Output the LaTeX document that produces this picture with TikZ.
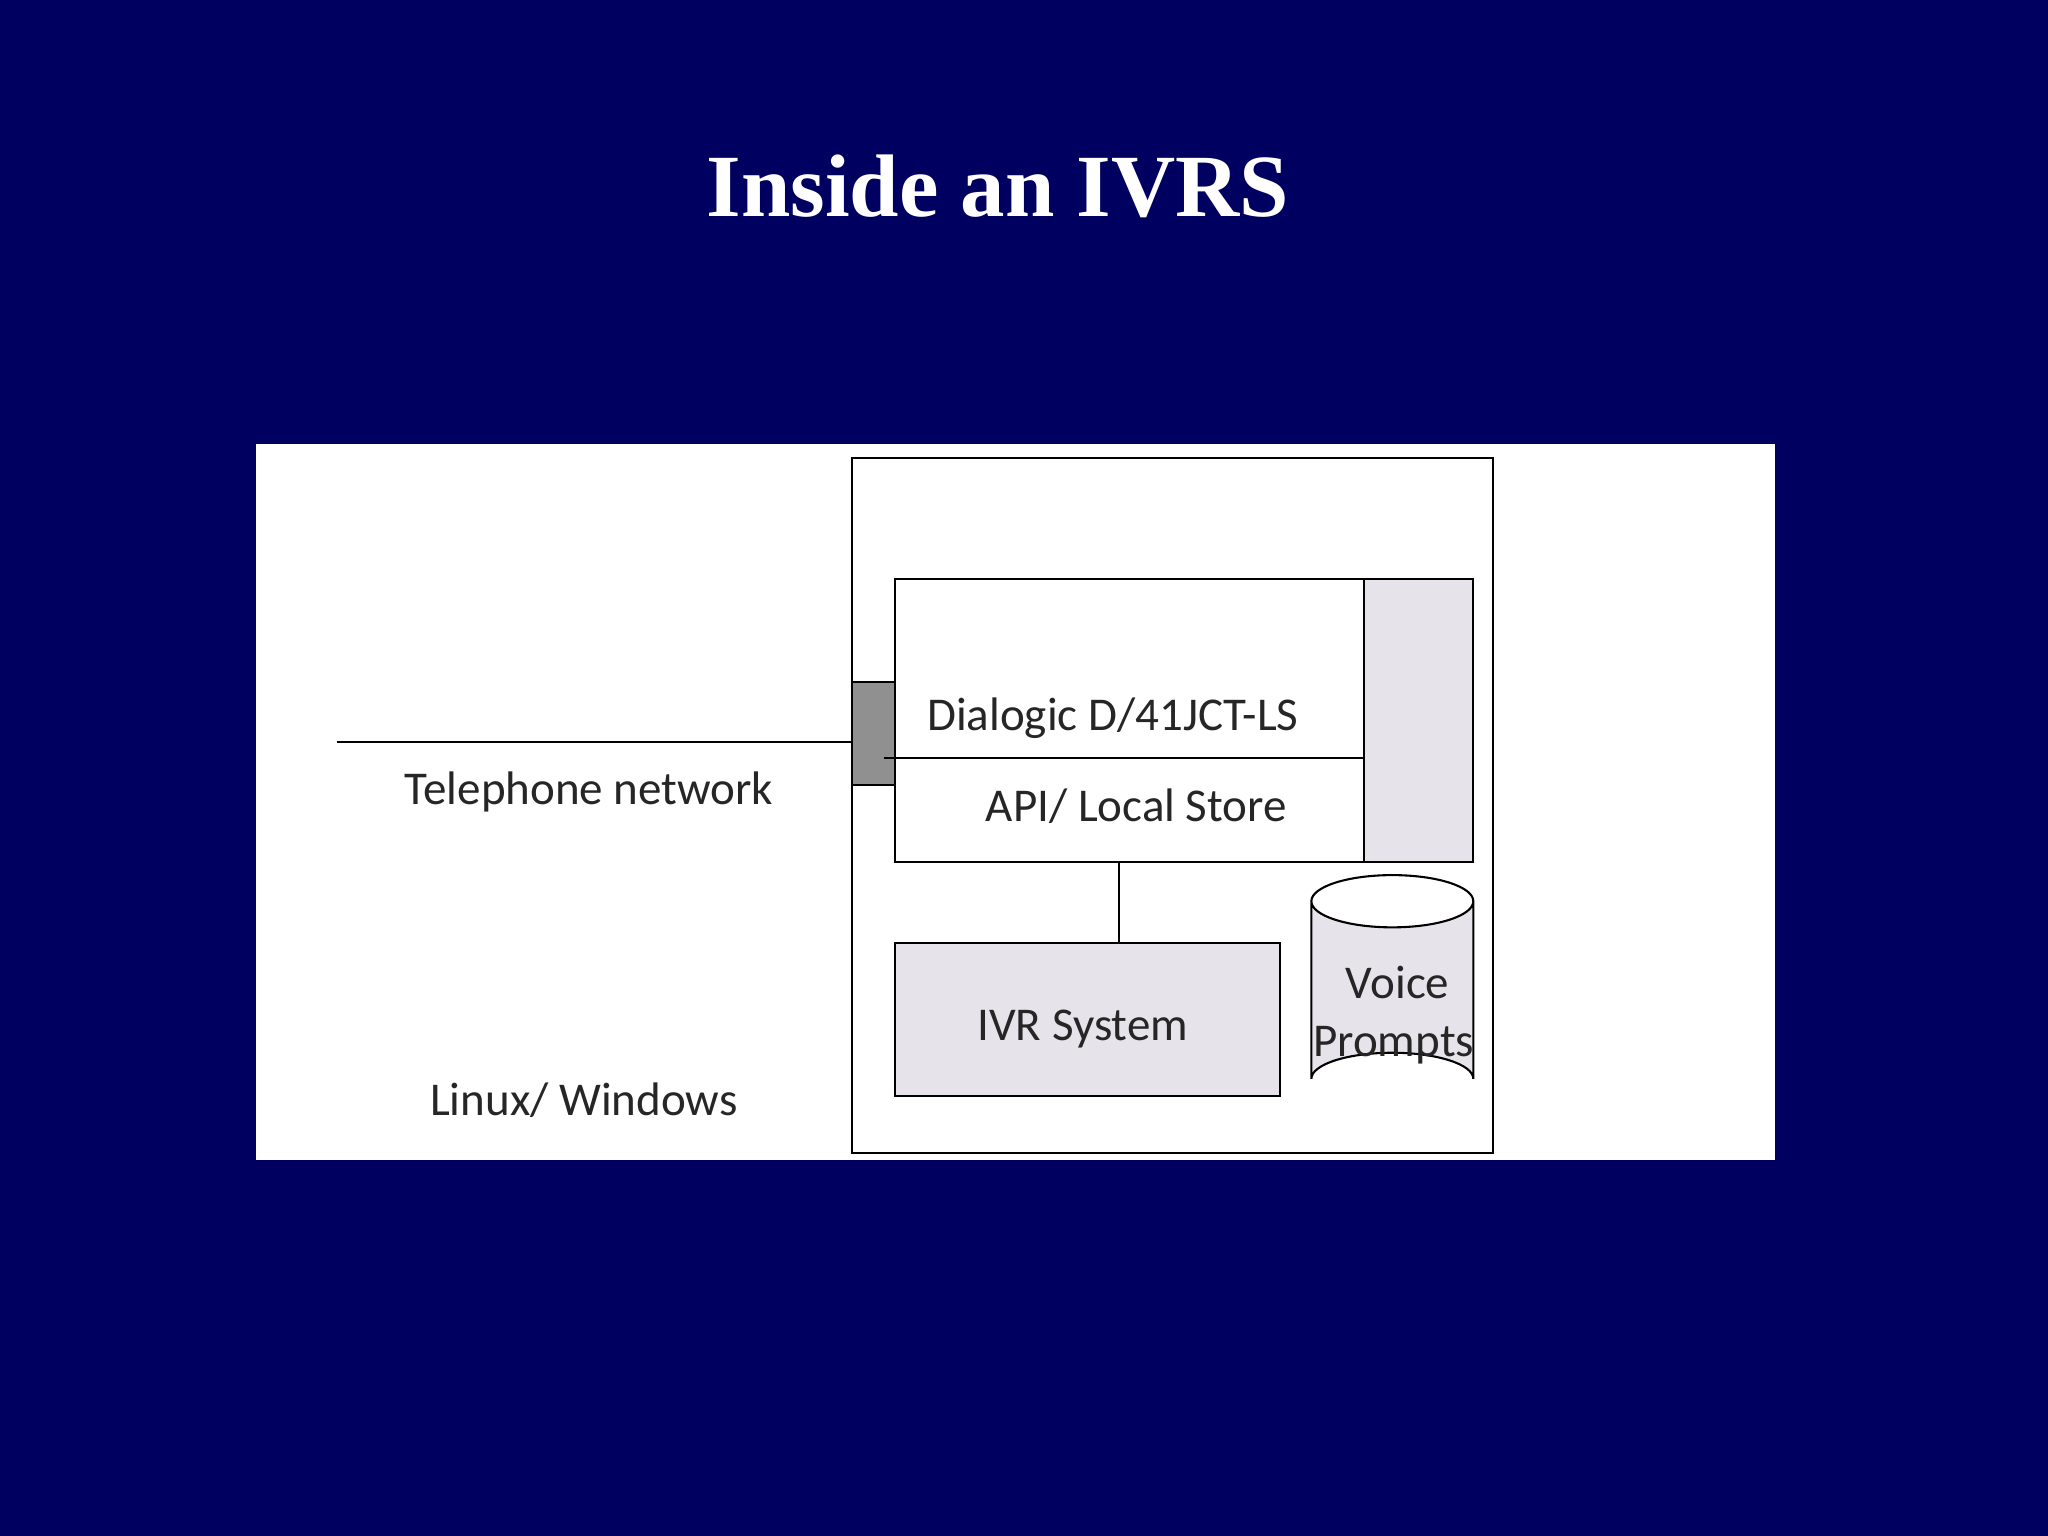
\documentclass[tikz,border=0pt]{standalone}
\usepackage{fontspec}
\setmainfont{Liberation Serif}
\newfontfamily\lab{Carlito}
\definecolor{navy}{HTML}{000060}
\definecolor{lg}{HTML}{E6E4EA}
\definecolor{dg}{HTML}{909090}
\begin{document}
\begin{tikzpicture}[x=0.5pt,y=-0.5pt,
  box/.style={draw=black,line width=0.8pt},
  txt/.style={font=\lab\fontsize{18}{20}\selectfont,text=black!85,inner sep=0pt}]
\useasboundingbox (0,0) rectangle (1568,1176);
\fill[navy] (0,0) rectangle (1568,1176);
\node[text=white,font=\bfseries\fontsize{34}{40}\selectfont] (title) at (764,143) {Inside an IVRS};
\fill[white] (196,340) rectangle (1359,888);
\draw[box] (652,351) rectangle (1143,883);
\draw[box,fill=lg] (1044,443) rectangle (1128,660);
\draw[box] (685,443) rectangle (1044,660);
\draw[box,fill=dg] (652,522) rectangle (685,601);
\coordinate (tl) at (258,568);
\coordinate (tr) at (652,568);
\draw[box] (tl) -- (tr);
\draw[box] (677,580) -- (1044,580);
\draw[box,fill=lg] (685,722) rectangle (980,839);
\coordinate (va) at (857,660);
\coordinate (vb) at (857,722);
\draw[box] (va) -- (vb);
% cylinder
\draw[box,fill=lg] (1004,690) -- (1004,826) arc[start angle=180,end angle=360,x radius=62,y radius=20] -- (1128,690) arc[start angle=0,end angle=180,x radius=62,y radius=20];
\draw[box] (1004,690) arc[start angle=180,end angle=360,x radius=62,y radius=20];
\node[txt] (dia) at (852,550) {Dialogic D/41JCT-LS};
\node[txt] (api) at (870,617) {API/ Local Store};
\node[txt] (tel) at (451,606) {Telephone network};
\node[txt] (lin) at (447,842) {Linux/ Windows};
\node[txt] (ivr) at (829,788) {IVR System};
\node[txt] (voi) at (1070,752) {Voice};
\node[txt] (pro) at (1067,800) {Prompts};
\end{tikzpicture}
\end{document}
